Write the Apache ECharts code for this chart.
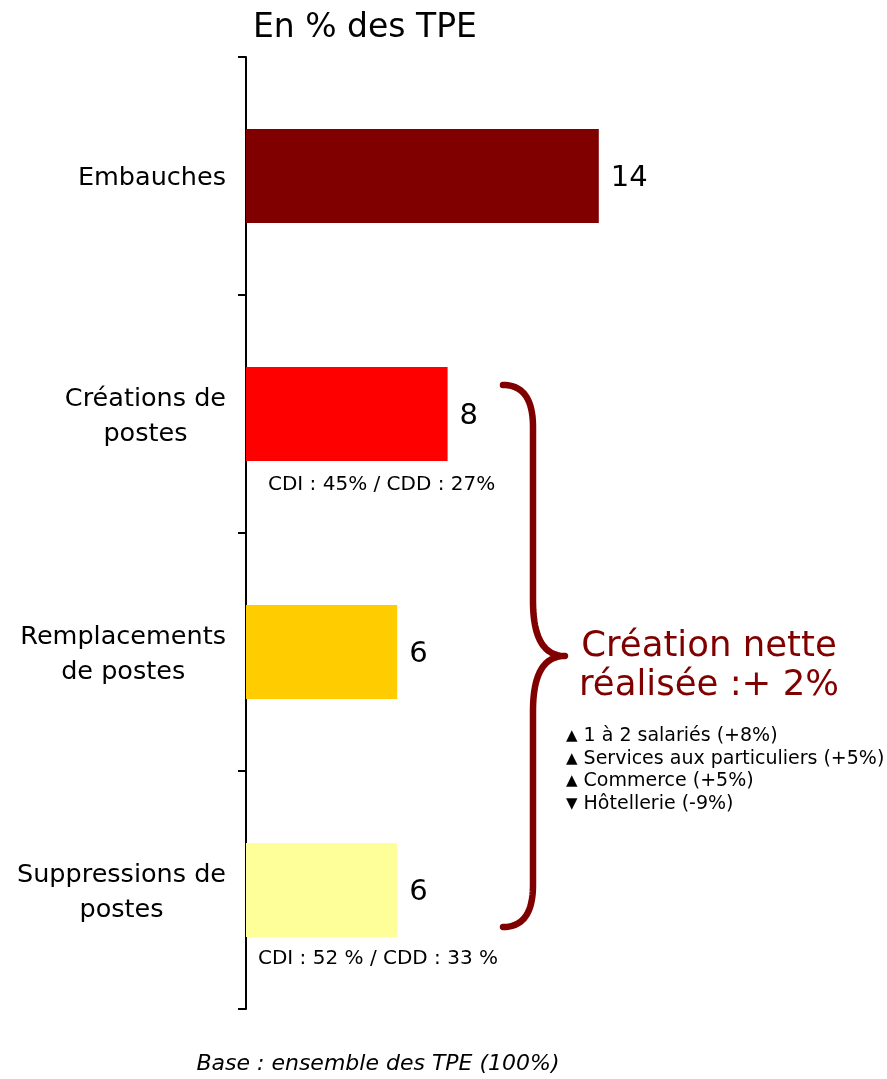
<!DOCTYPE html>
<html>
<head>
<meta charset="utf-8">
<script src="https://cdn.jsdelivr.net/npm/echarts@6/dist/echarts.min.js"></script>
<style>
  html, body { margin: 0; padding: 0; background: #fff; }
  #chart { width: 887px; height: 1079px; }
</style>
</head>
<body>
<div id="chart"></div>
<script>
// Mouvements d'emploi dans les TPE (en % des TPE)
const categories = ['Embauches', 'Créations de\npostes', 'Remplacements\nde postes', 'Suppressions de\npostes'];
const values = [14, 8, 6, 6];
const barColors = ['#800000', '#FF0000', '#FFCC00', '#FFFF99'];

// Ventilation CDI / CDD sous certaines barres
const contractNotes = [
  { cat: 1, dx: 22, dy: 71, text: 'CDI : 45% / CDD : 27%' },
  { cat: 3, dx: 12, dy: 69, text: 'CDI : 52 % / CDD : 33 %' }
];

const netTitle = 'Création nette\nréalisée :+ 2%';
const netDetails = [
  { up: true,  text: '1 à 2 salariés (+8%)' },
  { up: true,  text: 'Services aux particuliers (+5%)' },
  { up: true,  text: 'Commerce (+5%)' },
  { up: false, text: 'Hôtellerie (-9%)' }
];

const titleText = 'En % des TPE';
const footText = 'Base : ensemble des TPE (100%)';

const FONT = '"DejaVu Sans", Verdana, sans-serif';
const DARK = '#800000';

const chart = echarts.init(document.getElementById('chart'), null, { renderer: 'canvas' });

chart.setOption({
  animation: false,
  backgroundColor: '#fff',
  grid: { left: 246, right: 11, top: 57, bottom: 70, containLabel: false },
  xAxis: {
    type: 'value', min: 0, max: 25,
    show: false
  },
  yAxis: {
    type: 'category',
    inverse: true,
    data: categories,
    axisLine: { show: true, lineStyle: { color: '#000', width: 2 } },
    axisTick: { show: true, length: 8, lineStyle: { color: '#000', width: 2 } },
    axisLabel: {
      margin: 20, align: 'right',
      // each line centred inside the right-aligned label block
      formatter: (v) => v.split('\n').map((l) => '{c|' + l + '}').join('\n'),
      rich: {
        c: {
          align: 'center', color: '#000', fontFamily: FONT, fontSize: 25.5,
          lineHeight: 35, padding: [5, 0, 0, 0]
        }
      }
    },
    splitLine: { show: false }
  },
  series: [{
    type: 'bar',
    barWidth: 94,
    data: values.map((v, i) => ({ value: v, itemStyle: { color: barColors[i] } })),
    label: {
      show: true, position: 'right', distance: 12, offset: [0, 2],
      color: '#000', fontFamily: FONT, fontSize: 29
    }
  }]
});

// Annotations placed from the axes' own scale
function px(v, c) { return chart.convertToPixel({ gridIndex: 0 }, [v, c]); }

// Quadratic curve sampled into points
function quad(p0, p1, p2, n) {
  const pts = [];
  for (let i = 0; i <= n; i++) {
    const t = i / n, u = 1 - t;
    pts.push([
      u * u * p0[0] + 2 * u * t * p1[0] + t * t * p2[0],
      u * u * p0[1] + 2 * u * t * p1[1] + t * t * p2[1]
    ]);
  }
  return pts;
}

const graphics = [];

graphics.push({
  type: 'text', x: 253, y: 28,
  style: { text: titleText, fill: '#000', font: '33px ' + FONT, verticalAlign: 'middle' }
});

graphics.push({
  type: 'text', x: 378, y: 1064,
  style: { text: footText, fill: '#000', font: 'italic 22px ' + FONT, align: 'center', verticalAlign: 'middle' }
});

contractNotes.forEach((n) => {
  const p = px(0, n.cat);
  graphics.push({
    type: 'text', x: p[0] + n.dx, y: p[1] + n.dy,
    style: { text: n.text, fill: '#000', font: '20px ' + FONT, verticalAlign: 'middle' }
  });
});

// Accolade regroupant créations, remplacements et suppressions
const pTop = px(8, 1);
const pBot = px(6, 3);
const y0 = pTop[1] - 29;
const y1 = pBot[1] + 37;
const ym = (y0 + y1) / 2;
const xe = 503, xs = 533, xt = 565;
const r = 42, rm = 55;
let brace = [];
brace = brace.concat(quad([xe, y0], [xs, y0], [xs, y0 + r], 24));
brace = brace.concat(quad([xs, ym - rm], [xs, ym], [xt, ym], 24));
brace = brace.concat(quad([xt, ym], [xs, ym], [xs, ym + rm], 24).slice(1));
brace = brace.concat(quad([xs, y1 - r], [xs, y1], [xe, y1], 24));
graphics.push({
  type: 'polyline',
  shape: { points: brace },
  style: { fill: null, stroke: DARK, lineWidth: 6.5, lineCap: 'round', lineJoin: 'round' }
});

graphics.push({
  type: 'text', x: 709, y: ym + 10,
  style: {
    text: netTitle, fill: DARK, font: '35.5px ' + FONT,
    align: 'center', verticalAlign: 'middle', lineHeight: 39
  }
});

netDetails.forEach((d, i) => {
  graphics.push({
    type: 'text', x: 566, y: ym + 80 + i * 22.7,
    style: {
      text: '{g|' + (d.up ? '▲' : '▼') + '} ' + d.text,
      fill: '#000', font: '19px ' + FONT, verticalAlign: 'middle',
      rich: { g: { fontSize: 15, fontFamily: FONT, fill: '#000' } }
    }
  });
});

chart.setOption({ graphic: graphics });
</script>
</body>
</html>
